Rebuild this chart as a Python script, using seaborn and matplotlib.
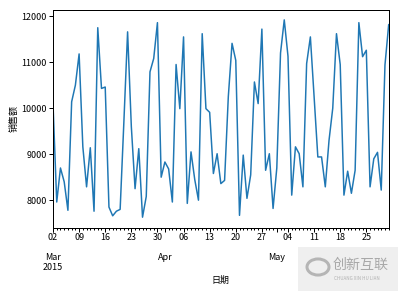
import matplotlib
matplotlib.use("Agg")
import matplotlib.pyplot as plt
import matplotlib.patches as mpatches
import pandas as pd
import seaborn as sns

# ---- data ----
start_date = "2015-03-02"
end_date = "2015-05-31"
sales = [10100, 7960, 8700, 8400, 7780, 10140, 10500, 11180, 9160, 8290,
         9140, 7760, 11750, 10430, 10460, 7850, 7660, 7760, 7800, 9700,
         11660, 9600, 8250, 9120, 7630, 8080, 10790, 11080, 11860, 8500,
         8830, 8680, 7960, 10950, 9990, 11550, 7930, 9050, 8450, 8000,
         11620, 9990, 9910, 8580, 9010, 8360, 8430, 10250, 11410, 11040,
         7670, 8980, 8040, 8550, 10570, 10100, 11720, 8650, 9010, 7820,
         8700, 11200, 11920, 11130, 8110, 9160, 9010, 8290, 10970, 11550,
         10250, 8940, 8940, 8290, 9300, 10000, 11620, 10950, 8110, 8630,
         8150, 8650, 11860, 11120, 11260, 8290, 8900, 9040, 8220, 10940,
         11820]
week_labels = ["02", "09", "16", "23", "30", "06", "13", "20", "27",
               "04", "11", "18", "25"]
month_ticks = ["2015-03-02", "2015-04-01", "2015-05-01"]
month_labels = ["Mar\n2015", "Apr", "May"]
y_ticks = [8000, 9000, 10000, 11000, 12000]
x_label = "日期"
y_label = "销售额"

dates = pd.date_range(start_date, end_date, freq="D")
mondays = pd.date_range(start_date, periods=len(week_labels), freq="7D")
df = pd.DataFrame({x_label: dates, y_label: sales})

sns.set_style("ticks")
plt.rcParams["font.family"] = ["Noto Sans CJK SC", "DejaVu Sans"]
plt.rcParams["font.weight"] = "medium"
plt.rcParams["axes.edgecolor"] = "black"
plt.rcParams["axes.linewidth"] = 1.0

W, H = 398, 291
fig = plt.figure(figsize=(W / 72, H / 72), dpi=72)
ax = fig.add_axes([53 / W, 1 - 228 / H, (388.7 - 53) / W, (228 - 10) / H])

sns.lineplot(data=df, x=x_label, y=y_label, ax=ax, color="#1f77b4",
             linewidth=1.5)

ax.set_xlim(dates[0], dates[-1])
ax.set_ylim(7395, 12135)
ax.set_yticks(y_ticks)
ax.set_yticklabels([str(v) for v in y_ticks], fontsize=9, color="black",
                   fontweight="medium")

ax.set_xticks(mondays)
ax.set_xticklabels(week_labels, fontsize=9, color="black",
                   fontweight="medium")
ax.set_xticks(dates, minor=True)
ax.tick_params(axis="x", which="major", length=4, width=1, pad=1.5,
               colors="black")
ax.tick_params(axis="x", which="minor", length=2, width=1, colors="black")
ax.tick_params(axis="y", which="major", length=4, width=1, pad=2,
               colors="black")

sec = ax.secondary_xaxis("bottom")
sec.set_xticks(pd.to_datetime(month_ticks))
sec.set_xticklabels(month_labels, fontsize=9, color="black",
                    linespacing=1.15, fontweight="medium")
sec.tick_params(axis="x", length=4, width=1, pad=20.5, colors="black")
sec.spines["bottom"].set_visible(False)

ax.set_xlabel(x_label, fontsize=9, labelpad=33, color="black",
              fontweight="medium")
ax.set_ylabel(y_label, fontsize=9, labelpad=3, color="black",
              fontweight="medium")

for s in ax.spines.values():
    s.set_visible(True)
    s.set_color("black")

# watermark box in the lower-right corner
fig.patches.append(mpatches.Rectangle((298 / W, 0), 100 / W, 44 / H,
                                      transform=fig.transFigure,
                                      facecolor="#efefef", edgecolor="none",
                                      zorder=5))
fig.patches.append(mpatches.Circle((318 / W, 1 - 267 / H), 11 / W,
                                   transform=fig.transFigure,
                                   facecolor="none", edgecolor="#b5b5b5",
                                   linewidth=3, zorder=6))
fig.text(333 / W, 1 - 265 / H, "创新互联", fontsize=14, color="#a8a8a8",
         ha="left", va="center", zorder=7)
fig.text(334 / W, 1 - 279 / H, "CHUANG XIN HU LIAN", fontsize=4.5,
         color="#b0b0b0", ha="left", va="center", zorder=7)

fig.savefig("out.png", dpi=72, facecolor="white")
